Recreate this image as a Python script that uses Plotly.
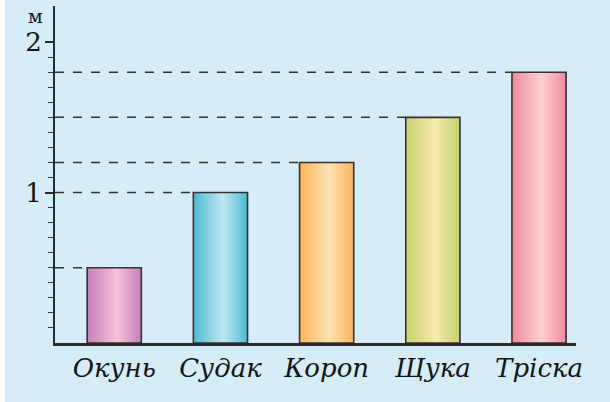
import plotly.graph_objects as go

# Data
categories = ["Окунь", "Судак", "Короп", "Щука", "Тріска"]
lengths_m = [0.5, 1.0, 1.2, 1.5, 1.8]
edge_colors = ["#c47fba", "#4bbbd3", "#fab65a", "#c8d26e", "#f1899c"]
center_colors = ["#f7c3db", "#c2e7f1", "#fee2b4", "#f5eab0", "#fdd1d5"]
y_tick_vals = [0.5, 1, 1.5, 2]
y_tick_text = ["", "1", "", "2"]
y_minor_vals = [round(0.1 * k, 1) for k in range(1, 21)]
unit_label = "м"

BAR_W = 0.51
X_RANGE = [-0.558, 4.348]
Y_RANGE = [0, 2.24]
BG = "#d5ecf9"
INK = "#2b2b2b"

fig = go.Figure()

# dashed guide lines from the y axis to the bar tops
for i, v in enumerate(lengths_m):
    fig.add_trace(go.Scatter(
        x=[X_RANGE[0], i - BAR_W / 2], y=[v, v], mode="lines",
        line=dict(color="#333333", width=1.5, dash="9px,9px"),
        hoverinfo="skip", showlegend=False, cliponaxis=False))

# bars with cylinder-like horizontal gradient
for i, (name, v) in enumerate(zip(categories, lengths_m)):
    x0, x1 = i - BAR_W / 2, i + BAR_W / 2
    fig.add_trace(go.Scatter(
        x=[x0, x0, x1, x1, x0], y=[0, v, v, 0, 0],
        mode="lines", fill="toself",
        fillgradient=dict(type="horizontal",
                          colorscale=[[0, edge_colors[i]], [0.55, center_colors[i]], [1, edge_colors[i]]]),
        line=dict(color="#333333", width=1.6),
        name=name, hovertemplate=f"{name}: %{{y}} м<extra></extra>",
        showlegend=False))

fig.update_layout(
    width=610, height=402,
    margin=dict(l=55, r=34, t=6, b=59),
    paper_bgcolor=BG, plot_bgcolor=BG,
    showlegend=False,
    xaxis=dict(
        range=X_RANGE, showgrid=False, zeroline=False,
        showline=True, linecolor=INK, linewidth=2.5,
        tickmode="array", tickvals=list(range(len(categories))), ticktext=categories,
        ticks="", tickfont=dict(family="DejaVu Serif", size=26, color="#141414", style="italic"),
        ticklabelstandoff=0,
    ),
    yaxis=dict(
        range=Y_RANGE, showgrid=False, zeroline=False,
        showline=True, linecolor=INK, linewidth=2,
        tickmode="array", tickvals=y_tick_vals, ticktext=y_tick_text,
        ticks="outside", ticklen=8, tickwidth=1.5, tickcolor=INK,
        tickfont=dict(family="DejaVu Serif", size=26, color="#141414"),
        ticklabelstandoff=-2,
        minor=dict(tickmode="array", tickvals=y_minor_vals, ticks="outside",
                   ticklen=5, tickwidth=1.2, tickcolor="#3a3a3a"),
    ),
    shapes=[dict(type="rect", xref="paper", yref="paper",
                 x0=-55 / 521, x1=-50 / 521, y0=-59 / 337, y1=1 + 6 / 337,
                 fillcolor="white", line=dict(width=0), layer="above")],
    annotations=[dict(text=unit_label, xref="paper", yref="paper",
                      x=-20 / 521, y=1 - 22 / 337, xanchor="center", yanchor="bottom",
                      borderpad=0,
                      showarrow=False, font=dict(family="DejaVu Serif", size=19, color="#141414"))],
)

fig.write_html("out.html", post_script="document.body.style.margin='0px';",
               config={"displayModeBar": False})
